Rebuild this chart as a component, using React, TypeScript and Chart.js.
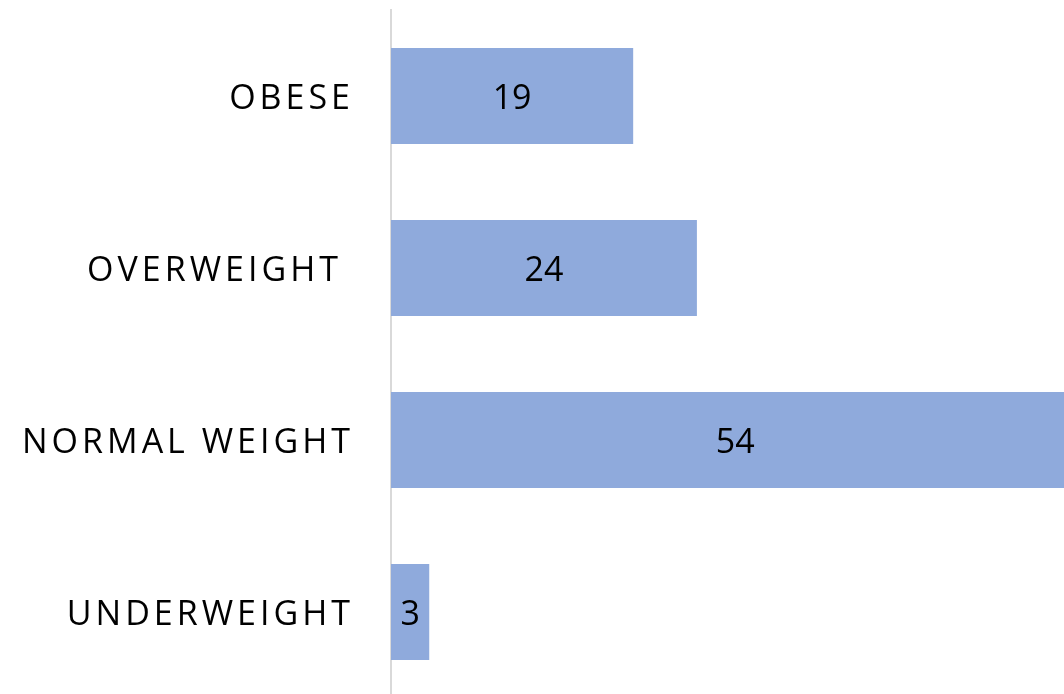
import React, { useEffect, useRef } from "react";
import { Chart, registerables } from "chart.js";

Chart.register(...registerables);

const categories = ["OBESE", "OVERWEIGHT", "NORMAL WEIGHT", "UNDERWEIGHT"];
const values = [19, 24, 54, 3];
const xMax = 52.8;

const labelPlugin = {
  id: "customLabels",
  afterDatasetsDraw(chart: any) {
    const ctx = chart.ctx;
    const xs = chart.scales.x;
    const ys = chart.scales.y;
    ctx.save();
    // values
    ctx.font = '34px "Open Sans"';
    ctx.fillStyle = "#000000";
    ctx.textAlign = "center";
    ctx.textBaseline = "middle";
    values.forEach((v, i) => {
      const x = (xs.getPixelForValue(0) + xs.getPixelForValue(v)) / 2;
      const y = ys.getPixelForValue(i) + 3;
      ctx.fillText(String(v), x, y);
    });
    // category labels
    ctx.font = '34px "Open Sans"';
    (ctx as any).letterSpacing = "4px";
    ctx.textAlign = "right";
    categories.forEach((c, i) => {
      const y = ys.getPixelForValue(i) + 3;
      const extra = c === "OVERWEIGHT" ? 12 : 0;
      ctx.fillText(c, 354 - extra, y);
    });
    ctx.restore();
  },
};

export default function App() {
  const ref = useRef<HTMLCanvasElement>(null);
  useEffect(() => {
    if (!ref.current) return;
    const chart = new Chart(ref.current, {
      type: "bar",
      data: {
        labels: categories,
        datasets: [
          {
            data: values,
            backgroundColor: "#8faadc",
            borderWidth: 0,
            categoryPercentage: 1,
            barPercentage: 0.558,
          },
        ],
      },
      options: {
        indexAxis: "y",
        animation: false,
        responsive: false,
        devicePixelRatio: 1,
        layout: { padding: { left: 391, top: 10, right: 0, bottom: 0 } },
        plugins: { legend: { display: false }, tooltip: { enabled: false } },
        scales: {
          x: { display: false, min: 0, max: xMax },
          y: {
            grid: { display: false, drawTicks: false },
            ticks: { display: false },
            border: { display: true, color: "#d9d9d9", width: 2 },
          },
        },
      },
      plugins: [labelPlugin],
    });
    return () => chart.destroy();
  }, []);
  return (
    <canvas
      ref={ref}
      width={1064}
      height={698}
      style={{ position: "fixed", left: 0, top: 0, width: 1064, height: 698 }}
    />
  );
}
